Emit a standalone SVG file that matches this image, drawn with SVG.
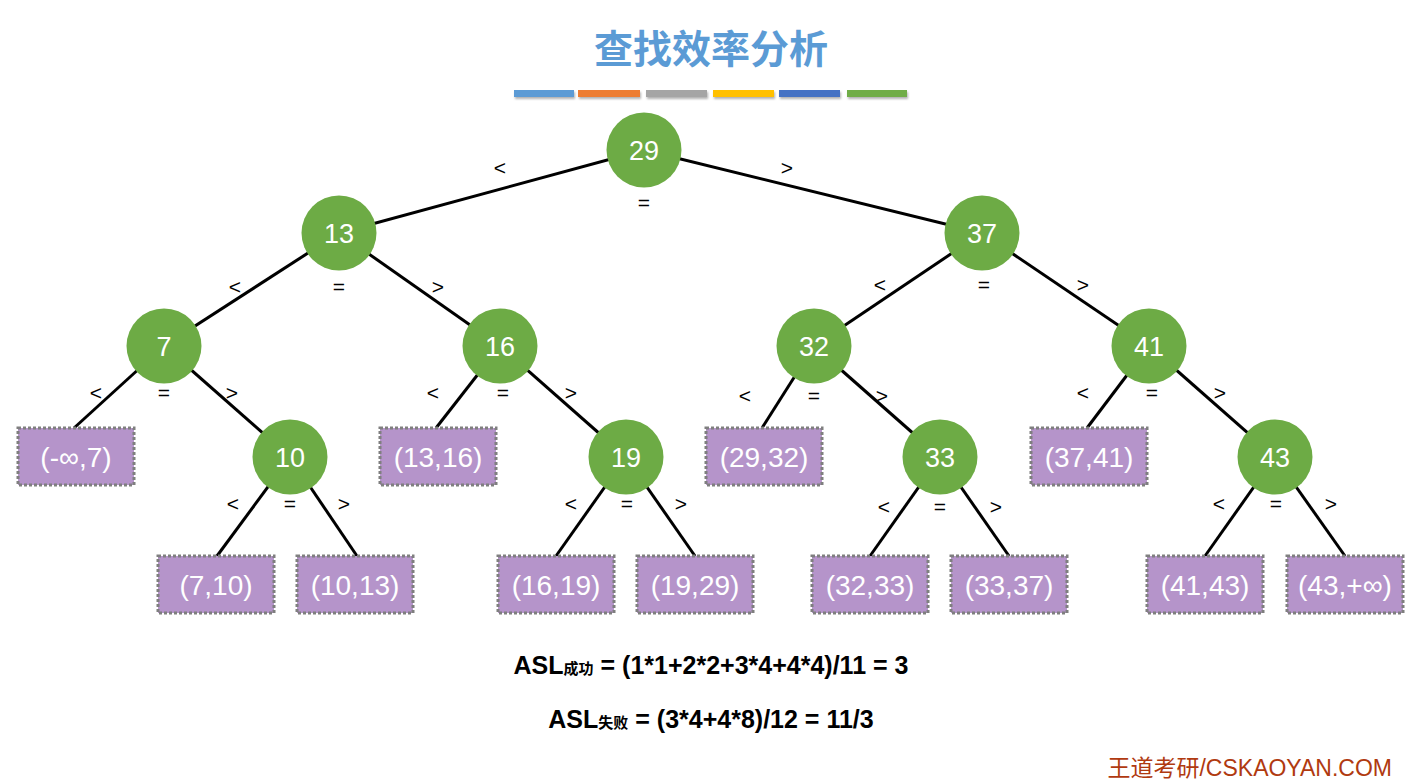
<svg xmlns="http://www.w3.org/2000/svg" width="1411" height="783" viewBox="0 0 1411 783">
<defs>
<style>
.node circle{fill:#6DAB45}
.node text{fill:#fff;font-family:"Liberation Sans",Arial,sans-serif;font-size:27px;text-anchor:middle}
.leaf rect{fill:#B594CA;stroke:#7F7F7F;stroke-width:3;stroke-dasharray:3 2}
.leaf text{fill:#fff;font-family:"Liberation Sans",Arial,sans-serif;font-size:28px;text-anchor:middle}
.edges line{stroke:#000;stroke-width:3}
.lbl{font-family:"Liberation Sans",Arial,sans-serif;font-size:21px;text-anchor:middle;fill:#000}
.bar{filter:url(#sh)}
</style>
<filter id="sh" x="-10%" y="-50%" width="120%" height="250%">
<feDropShadow dx="1" dy="2" stdDeviation="1" flood-color="#000" flood-opacity="0.3"/>
</filter>
</defs>
<rect width="1411" height="783" fill="#fff"/>
<text x="711" y="63" font-family="'Noto Sans CJK SC',sans-serif" font-size="39" font-weight="bold" fill="#5B9BD5" text-anchor="middle">查找效率分析</text>
<g id="bars">
<rect class="bar" x="514" y="90" width="60" height="7" fill="#5B9BD5"/>
<rect class="bar" x="578" y="90" width="62" height="7" fill="#ED7D31"/>
<rect class="bar" x="646" y="90" width="61" height="7" fill="#A5A5A5"/>
<rect class="bar" x="713" y="90" width="61" height="7" fill="#FFC000"/>
<rect class="bar" x="779" y="90" width="61" height="7" fill="#4472C4"/>
<rect class="bar" x="847" y="90" width="60" height="7" fill="#70AD47"/>
</g>
<g class="edges" id="connectors">
<line x1="644" y1="150" x2="339" y2="233"/>
<line x1="644" y1="150" x2="982" y2="233"/>
<line x1="339" y1="233" x2="164" y2="346"/>
<line x1="339" y1="233" x2="500" y2="346"/>
<line x1="982" y1="233" x2="814" y2="346"/>
<line x1="982" y1="233" x2="1149" y2="346"/>
<line x1="164" y1="346" x2="74" y2="428"/>
<line x1="164" y1="346" x2="290" y2="457"/>
<line x1="500" y1="346" x2="436" y2="428"/>
<line x1="500" y1="346" x2="626" y2="457"/>
<line x1="814" y1="346" x2="762" y2="428"/>
<line x1="814" y1="346" x2="940" y2="457"/>
<line x1="1149" y1="346" x2="1087" y2="428"/>
<line x1="1149" y1="346" x2="1275" y2="457"/>
<line x1="290" y1="457" x2="217" y2="556"/>
<line x1="290" y1="457" x2="357" y2="556"/>
<line x1="626" y1="457" x2="556" y2="556"/>
<line x1="626" y1="457" x2="695" y2="556"/>
<line x1="940" y1="457" x2="870" y2="556"/>
<line x1="940" y1="457" x2="1009" y2="556"/>
<line x1="1275" y1="457" x2="1205" y2="556"/>
<line x1="1275" y1="457" x2="1345" y2="556"/>
</g>
<g id="labels">
<text class="lbl" x="500" y="175">&lt;</text><text class="lbl" x="644" y="210">=</text><text class="lbl" x="787" y="175">&gt;</text>
<text class="lbl" x="235" y="294">&lt;</text><text class="lbl" x="339" y="294">=</text><text class="lbl" x="438" y="294">&gt;</text>
<text class="lbl" x="880" y="292">&lt;</text><text class="lbl" x="984" y="292">=</text><text class="lbl" x="1083" y="292">&gt;</text>
<text class="lbl" x="96" y="400">&lt;</text><text class="lbl" x="164" y="400">=</text><text class="lbl" x="232" y="400">&gt;</text>
<text class="lbl" x="433" y="400">&lt;</text><text class="lbl" x="503" y="400">=</text><text class="lbl" x="571" y="400">&gt;</text>
<text class="lbl" x="745" y="403">&lt;</text><text class="lbl" x="814" y="403">=</text><text class="lbl" x="882" y="403">&gt;</text>
<text class="lbl" x="1083" y="400">&lt;</text><text class="lbl" x="1152" y="400">=</text><text class="lbl" x="1220" y="400">&gt;</text>
<text class="lbl" x="233" y="511">&lt;</text><text class="lbl" x="290" y="511">=</text><text class="lbl" x="344" y="511">&gt;</text>
<text class="lbl" x="571" y="511">&lt;</text><text class="lbl" x="627" y="511">=</text><text class="lbl" x="681" y="511">&gt;</text>
<text class="lbl" x="884" y="514">&lt;</text><text class="lbl" x="940" y="514">=</text><text class="lbl" x="996" y="514">&gt;</text>
<text class="lbl" x="1219" y="511">&lt;</text><text class="lbl" x="1276" y="511">=</text><text class="lbl" x="1331" y="511">&gt;</text>
</g>
<g id="n29" class="node"><circle cx="644" cy="150" r="37.5"/><text x="644" y="160">29</text></g>
<g id="n13" class="node"><circle cx="339" cy="233" r="37.5"/><text x="339" y="243">13</text></g>
<g id="n37" class="node"><circle cx="982" cy="233" r="37.5"/><text x="982" y="243">37</text></g>
<g id="n7" class="node"><circle cx="164" cy="346" r="37.5"/><text x="164" y="356">7</text></g>
<g id="n16" class="node"><circle cx="500" cy="346" r="37.5"/><text x="500" y="356">16</text></g>
<g id="n32" class="node"><circle cx="814" cy="346" r="37.5"/><text x="814" y="356">32</text></g>
<g id="n41" class="node"><circle cx="1149" cy="346" r="37.5"/><text x="1149" y="356">41</text></g>
<g id="n10" class="node"><circle cx="290" cy="457" r="37.5"/><text x="290" y="467">10</text></g>
<g id="n19" class="node"><circle cx="626" cy="457" r="37.5"/><text x="626" y="467">19</text></g>
<g id="n33" class="node"><circle cx="940" cy="457" r="37.5"/><text x="940" y="467">33</text></g>
<g id="n43" class="node"><circle cx="1275" cy="457" r="37.5"/><text x="1275" y="467">43</text></g>
<g id="f1" class="leaf"><rect x="18" y="428" width="116" height="57"/><text x="76" y="467">(-∞,7)</text></g>
<g id="f2" class="leaf"><rect x="380" y="428" width="116" height="57"/><text x="438" y="467">(13,16)</text></g>
<g id="f3" class="leaf"><rect x="706" y="428" width="116" height="57"/><text x="764" y="467">(29,32)</text></g>
<g id="f4" class="leaf"><rect x="1031" y="428" width="116" height="57"/><text x="1089" y="467">(37,41)</text></g>
<g id="f5" class="leaf"><rect x="158" y="556" width="116" height="57"/><text x="216" y="595">(7,10)</text></g>
<g id="f6" class="leaf"><rect x="297" y="556" width="116" height="57"/><text x="355" y="595">(10,13)</text></g>
<g id="f7" class="leaf"><rect x="498" y="556" width="116" height="57"/><text x="556" y="595">(16,19)</text></g>
<g id="f8" class="leaf"><rect x="637" y="556" width="116" height="57"/><text x="695" y="595">(19,29)</text></g>
<g id="f9" class="leaf"><rect x="812" y="556" width="116" height="57"/><text x="870" y="595">(32,33)</text></g>
<g id="f10" class="leaf"><rect x="951" y="556" width="116" height="57"/><text x="1009" y="595">(33,37)</text></g>
<g id="f11" class="leaf"><rect x="1147" y="556" width="116" height="57"/><text x="1205" y="595">(41,43)</text></g>
<g id="f12" class="leaf"><rect x="1287" y="556" width="116" height="57"/><text x="1345" y="595">(43,+∞)</text></g>
<g id="formulas" font-family="'Liberation Sans','Noto Sans CJK SC',Arial,sans-serif" font-weight="bold" fill="#000">
<text x="711" y="674" font-size="25" text-anchor="middle">ASL<tspan font-size="15" font-family="'Noto Sans CJK SC',sans-serif">成功</tspan> = (1*1+2*2+3*4+4*4)/11 = 3</text>
<text x="711" y="728" font-size="25" text-anchor="middle">ASL<tspan font-size="15" font-family="'Noto Sans CJK SC',sans-serif">失败</tspan> = (3*4+4*8)/12 = 11/3</text>
</g>
<text x="1392" y="776" font-family="'Liberation Sans','Noto Sans CJK SC',sans-serif" font-size="23" fill="#B03A10" text-anchor="end">王道考研/CSKAOYAN.COM</text>
</svg>
